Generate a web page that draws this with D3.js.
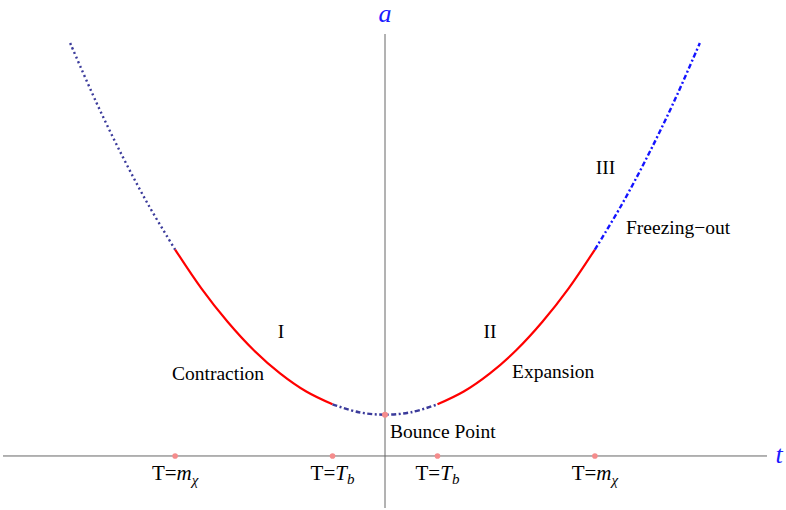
<!DOCTYPE html>
<html><head><meta charset="utf-8">
<script src="https://cdn.jsdelivr.net/npm/d3@7"></script>
<style>body{margin:0;background:#fff}svg{display:block}</style>
</head><body>
<svg id="c" width="786" height="510"></svg>
<script>
// curve a(t) (arbitrary units)
const tVals = [-3,-2.75,-2.5,-2.25,-2,-1.75,-1.5,-1.25,-1,-0.75,-0.5,-0.25,0,0.25,0.5,0.75,1,1.25,1.5,1.75,2,2.25,2.5,2.75,3];
const aVals = [10,8.56,7.25,6.06,5,4.06,3.25,2.56,2,1.56,1.25,1.06,1,1.06,1.25,1.56,2,2.56,3.25,4.06,5,6.06,7.25,8.56,10];
// segment boundaries on t
const segBreaks = [-3,-2,-0.5,0.5,2,3];
const segStyles = ["dotted","solid","dashdot","solid","dotdash"];
// marked points on t axis and their labels
const markT = [-2,-0.5,0.5,2];
const markLabels = ["mchi","Tb","Tb","mchi"];
const bounce = {t:0,a:1};

const FONT = "'Liberation Serif','Times New Roman','DejaVu Serif',serif";
const svg = d3.select("#c").attr("font-family",FONT);
const x = d3.scaleLinear().domain([-3.64,3.64]).range([3,767]);
const y = d3.scaleLinear().domain([-1.26,10.22]).range([508,34]);

// axes
svg.append("line").attr("x1",x(-3.64)).attr("x2",x(3.64)).attr("y1",y(0)).attr("y2",y(0)).attr("stroke","#666").attr("stroke-width",1);
svg.append("line").attr("x1",x(0)).attr("x2",x(0)).attr("y1",y(-1.26)).attr("y2",y(10.22)).attr("stroke","#666").attr("stroke-width",1);

const pts = tVals.map((t,i)=>({t,a:aVals[i]}));
const line = d3.line().x(d=>x(d.t)).y(d=>y(d.a)).curve(d3.curveCatmullRom);
const styleMap = {
  dotted:{stroke:"#3b3b9b",dash:"2,3",w:2.4},
  solid:{stroke:"#ff0000",dash:null,w:2.2},
  dashdot:{stroke:"#3b3b9b",dash:"5,2.5,2,2.5",w:2.4},
  dotdash:{stroke:"#1414ff",dash:"5,2.5,2,2.5",w:2.4}
};
for(let s=0;s<segStyles.length;s++){
  const lo=segBreaks[s], hi=segBreaks[s+1];
  const seg = pts.filter(p=>p.t>=lo-1e-9 && p.t<=hi+1e-9);
  const st = styleMap[segStyles[s]];
  const p = svg.append("path").attr("d",line(seg)).attr("fill","none")
    .attr("stroke",st.stroke).attr("stroke-width",st.w);
  if(st.dash) p.attr("stroke-dasharray",st.dash);
}

// markers
const pink = "#f58c8c";
markT.forEach(t=>svg.append("circle").attr("cx",x(t)).attr("cy",y(0)).attr("r",2.8).attr("fill",pink));
svg.append("circle").attr("cx",x(bounce.t)).attr("cy",y(bounce.a)).attr("r",3).attr("fill",pink);

// marker labels
markT.forEach((t,i)=>{
  const tx = svg.append("text").attr("x",x(t)).attr("y",480).attr("text-anchor","middle").attr("font-size",21);
  tx.append("tspan").text("T=");
  if(markLabels[i]==="mchi"){
    tx.append("tspan").attr("font-style","italic").text("m");
    tx.append("tspan").attr("font-style","italic").attr("font-size",15).attr("dy",5).text("χ");
  } else {
    tx.append("tspan").attr("font-style","italic").text("T");
    tx.append("tspan").attr("font-style","italic").attr("font-size",15).attr("dy",4).text("b");
  }
});

// axis labels
svg.append("text").attr("x",x(0)).attr("y",22).attr("text-anchor","middle").attr("font-size",26).attr("font-style","italic").attr("fill","#1a1aff").text("a");
svg.append("text").attr("x",779).attr("y",463).attr("text-anchor","middle").attr("font-size",26).attr("font-style","italic").attr("fill","#1a1aff").text("t");

// annotations
const ann = [
  {tx:"Bounce Point",x:390,y:438,fs:19.5,anchor:"start"},
  {tx:"I",x:281,y:338,fs:19.5,anchor:"middle"},
  {tx:"II",x:490,y:338,fs:19.5,anchor:"middle"},
  {tx:"III",x:605.5,y:174,fs:19.5,anchor:"middle"},
  {tx:"Contraction",x:172,y:380,fs:19.5,anchor:"start"},
  {tx:"Expansion",x:512,y:378,fs:19.5,anchor:"start"},
  {tx:"Freezing\u2212out",x:626,y:234,fs:19.5,anchor:"start"}
];
ann.forEach(d=>svg.append("text").attr("x",d.x).attr("y",d.y).attr("font-size",d.fs).attr("text-anchor",d.anchor).text(d.tx));
</script>
</body></html>
